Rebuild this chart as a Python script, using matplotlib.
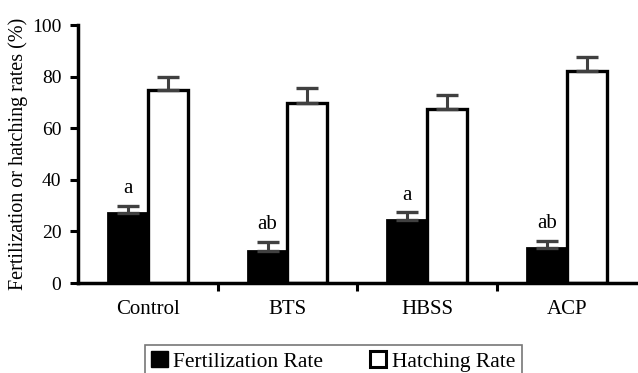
import matplotlib.pyplot as plt
import matplotlib.patches as mpatches
import numpy as np

plt.rcParams['font.family'] = ['Liberation Serif', 'DejaVu Serif']

groups = ['Control', 'BTS', 'HBSS', 'ACP']
fert = [27.0, 12.5, 24.5, 13.4]
fert_err = [3.0, 3.3, 2.9, 3.0]
hatch = [74.8, 69.9, 67.4, 82.3]
hatch_err = [5.2, 5.6, 5.3, 5.4]
letters = ['a', 'ab', 'a', 'ab']

fig = plt.figure(figsize=(6.38, 3.73), dpi=100)
ax = fig.add_axes([78/638, 90/373, 1 - 78/638, (283-25)/373])

x = np.arange(len(groups))
w = 0.285
ekw = dict(ecolor='#404040', elinewidth=2.2, capsize=8, capthick=2.4)
ax.bar(x - w/2, fert, w, color='black', edgecolor='black', linewidth=2,
       yerr=[np.zeros(4), fert_err], error_kw=ekw, zorder=2)
ax.bar(x + w/2, hatch, w, color='white', edgecolor='black', linewidth=2.4,
       yerr=[np.zeros(4), hatch_err], error_kw=ekw, zorder=2)

for i in range(len(groups)):
    ax.text(x[i] - w/2, fert[i] + fert_err[i] + 3, letters[i],
            ha='center', va='bottom', fontsize=15)

ax.set_xlim(-0.5, 3.51)
ax.set_ylim(0, 100)
ax.set_yticks(np.arange(0, 101, 20))
ax.set_xticks([0.5, 1.5, 2.5])
ax.set_xticklabels([])
ax.tick_params(axis='x', direction='out', length=6, width=2.2)
ax.tick_params(axis='y', direction='out', length=6, width=2.2,
               labelsize=14, pad=6)
for i, g in enumerate(groups):
    ax.text(x[i], -6.5, g, ha='center', va='top', fontsize=15,
            transform=ax.transData)

ax.spines['top'].set_visible(False)
ax.spines['right'].set_visible(False)
ax.spines['left'].set_linewidth(2.5)
ax.spines['bottom'].set_linewidth(2.5)
ax.set_ylabel('Fertilization or hatching rates (%)', fontsize=14.5, labelpad=3)

h1 = mpatches.Patch(facecolor='black', edgecolor='black', label='Fertilization Rate')
h2 = mpatches.Patch(facecolor='white', edgecolor='black', linewidth=2.2, label='Hatching Rate')
leg = fig.legend(handles=[h1, h2], loc='upper left', ncol=2,
                 bbox_to_anchor=(145/638, 1 - 345/373), borderaxespad=0,
                 fontsize=15.5, fancybox=False, edgecolor='#555555',
                 handlelength=0.75, handleheight=0.75, handletextpad=0.25,
                 columnspacing=2.2, borderpad=0.3)
leg.get_frame().set_linewidth(1.2)

fig.savefig('out.png', dpi=100)
